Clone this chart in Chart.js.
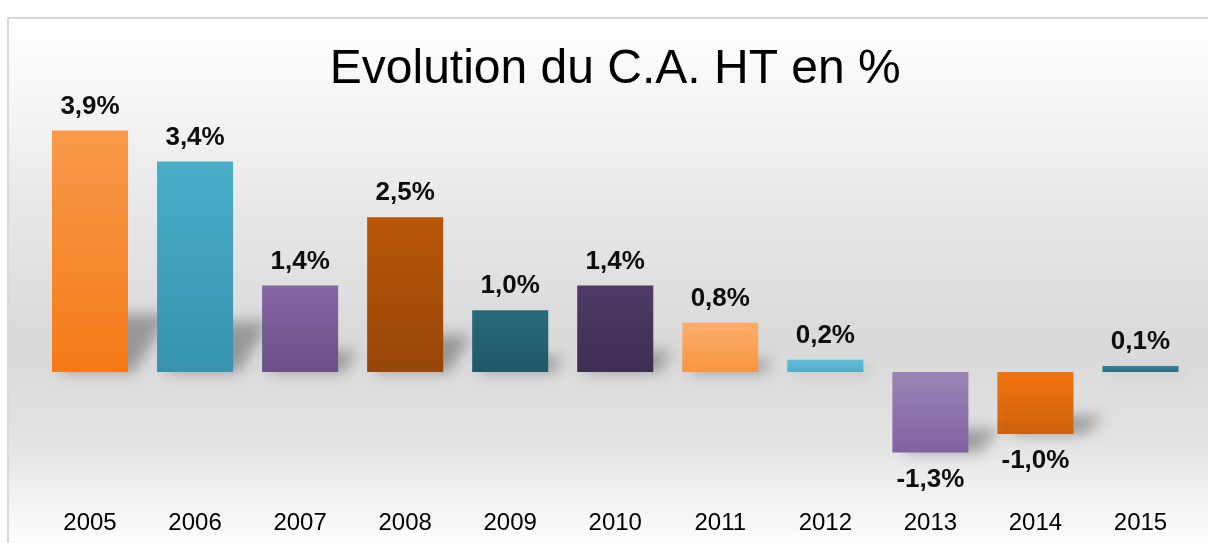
<!DOCTYPE html>
<html lang="fr">
<head>
<meta charset="utf-8">
<title>Evolution du C.A. HT en %</title>
<script src="https://cdn.jsdelivr.net/npm/chart.js@4/dist/chart.umd.min.js"></script>
<style>
  html, body { margin: 0; padding: 0; background: #fff; }
  #wrap { width: 1208px; height: 543px; }
</style>
</head>
<body>
<div id="wrap"><canvas id="ca-chart" width="1208" height="543"></canvas></div>
<script>
// Données
const annees = ['2005', '2006', '2007', '2008', '2009', '2010', '2011', '2012', '2013', '2014', '2015'];
const evolution = [3.9, 3.4, 1.4, 2.5, 1.0, 1.4, 0.8, 0.2, -1.3, -1.0, 0.1];

// Couleurs des barres (haut / bas du dégradé)
const couleursHaut = ['#f89a4c', '#4aaec8', '#8467a5', '#b95708', '#286a7c', '#4f3b66',
                      '#fbad6e', '#65bfd6', '#9a84b6', '#f2740e', '#2f8298'];
const couleursBas  = ['#f47a17', '#3692ad', '#6b4f87', '#974608', '#1f5868', '#3f2d52',
                      '#f8953f', '#4cabc6', '#8062a1', '#cd610c', '#286f82'];

const FONT = '"Liberation Sans", Arial, sans-serif';

// Fond dégradé gris + cadre
const fondPlugin = {
    id: 'fond',
    beforeDraw(chart) {
        const { ctx, width, height } = chart;
        ctx.save();
        ctx.fillStyle = '#ffffff';
        ctx.fillRect(0, 0, width, height);
        const g = ctx.createLinearGradient(0, 18, 0, height);
        g.addColorStop(0.00, '#ffffff');
        g.addColorStop(0.15, '#f6f6f6');
        g.addColorStop(0.35, '#e8e8e8');
        g.addColorStop(0.62, '#d9d9d9');
        g.addColorStop(0.80, '#e2e2e2');
        g.addColorStop(0.92, '#f2f2f2');
        g.addColorStop(1.00, '#fdfdfd');
        ctx.fillStyle = g;
        ctx.fillRect(8, 18, width, height);
        ctx.strokeStyle = '#d9d9d9';
        ctx.lineWidth = 2;
        ctx.strokeRect(8, 18, width + 10, height + 10);
        ctx.restore();
    }
};

// Ombre portée en perspective derrière chaque barre
const ombrePlugin = {
    id: 'ombre',
    beforeDatasetsDraw(chart) {
        const { ctx } = chart;
        const meta = chart.getDatasetMeta(0);
        ctx.save();
        ctx.filter = 'blur(7px)';
        ctx.fillStyle = 'rgba(0,0,0,0.3)';
        meta.data.forEach((bar, i) => {
            const w = bar.width;
            const h = Math.abs(bar.base - bar.y);
            const left = bar.x - w / 2;
            ctx.beginPath();
            if (evolution[i] >= 0) {
                const k = Math.min(h * 0.24, 60);
                const dx = k * 0.6;
                ctx.moveTo(left + 6, bar.base);
                ctx.lineTo(left + w + 6, bar.base);
                ctx.lineTo(left + w + dx + 6, bar.base - k);
                ctx.lineTo(left + dx + 6, bar.base - k);
            } else {
                const k = Math.min(h * 0.3, 25);
                ctx.moveTo(left + 10, bar.y);
                ctx.lineTo(left + w + 12, bar.y);
                ctx.lineTo(left + w + 30, bar.y - k);
                ctx.lineTo(left + 28, bar.y - k);
            }
            ctx.closePath();
            ctx.fill();
        });
        ctx.restore();
    }
};

// Étiquettes de valeurs (format français)
const etiquettesPlugin = {
    id: 'etiquettes',
    afterDatasetsDraw(chart) {
        const { ctx } = chart;
        const meta = chart.getDatasetMeta(0);
        ctx.save();
        ctx.font = 'bold 26px ' + FONT;
        ctx.fillStyle = '#0d0d0d';
        ctx.textAlign = 'center';
        ctx.textBaseline = 'middle';
        meta.data.forEach((bar, i) => {
            const v = evolution[i];
            const txt = v.toFixed(1).replace('.', ',') + '%';
            const y = v >= 0 ? bar.y - 24 : bar.y + 27;
            ctx.fillText(txt, bar.x, y);
        });
        ctx.restore();
    }
};

function degradeBarre(context) {
    const chart = context.chart;
    const i = context.dataIndex;
    if (!chart.chartArea || !chart.scales.y) return couleursBas[i];
    const y = chart.scales.y;
    const v = evolution[i];
    const p0 = y.getPixelForValue(0);
    const p1 = y.getPixelForValue(v);
    const top = Math.min(p0, p1), bot = Math.max(p0, p1) + 0.01;
    const g = chart.ctx.createLinearGradient(0, top, 0, bot);
    g.addColorStop(0, couleursHaut[i]);
    g.addColorStop(1, couleursBas[i]);
    return g;
}

new Chart(document.getElementById('ca-chart'), {
    type: 'bar',
    data: {
        labels: annees,
        datasets: [{
            data: evolution,
            backgroundColor: degradeBarre,
            borderWidth: 0,
            categoryPercentage: 1,
            barPercentage: 0.724
        }]
    },
    options: {
        responsive: false,
        animation: false,
        layout: { padding: { left: 37.5, right: 15, top: 33, bottom: 1.6 } },
        plugins: {
            legend: { display: false },
            tooltip: { enabled: false },
            title: {
                display: true,
                text: 'Evolution du C.A. HT en %',
                color: '#000000',
                font: { family: FONT, size: 48, weight: 'normal' },
                padding: { top: 8.4, bottom: 0 }
            }
        },
        scales: {
            x: {
                grid: { display: false, drawTicks: false },
                border: { display: false },
                ticks: { color: '#000000', font: { family: FONT, size: 24 }, padding: 4 }
            },
            y: {
                display: false,
                min: -2.14,
                max: 4.41
            }
        }
    },
    plugins: [fondPlugin, ombrePlugin, etiquettesPlugin]
});
</script>
</body>
</html>
